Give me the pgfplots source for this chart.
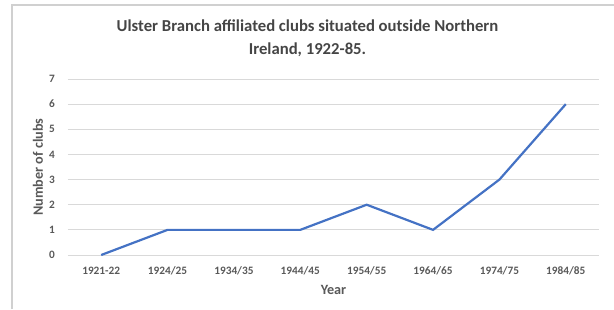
\documentclass[border=0pt]{standalone}
\usepackage{pgfplots}
\pgfplotsset{compat=1.18}
\usepackage{fontspec}
\setmainfont{Carlito}
\definecolor{xlblue}{HTML}{4472C4}
\definecolor{txtgray}{HTML}{595959}
\definecolor{titlegray}{HTML}{454545}
\definecolor{gridgray}{HTML}{D9D9D9}
\definecolor{framegray}{HTML}{D0D0D0}
\begin{document}
\begin{tikzpicture}[x=1pt,y=1pt]
\useasboundingbox (0,0) rectangle (614,309);
\draw[framegray, line width=1.2pt] (12,0) -- (12,304) -- (614,304);
\node[font=\fontsize{16.7}{23}\selectfont\bfseries, text=titlegray, align=center] at (307.5,270.5) {Ulster Branch affiliated clubs situated outside Northern\\Ireland, 1922-85.};
\begin{axis}[
  at={(68pt,54pt)}, anchor=south west,
  scale only axis, width=531pt, height=176pt,
  xmin=-0.5, xmax=7.5, ymin=0, ymax=7,
  xtick={0,...,7},
  xticklabels={1921-22,1924/25,1934/35,1944/45,1954/55,1964/65,1974/75,1984/85},
  ytick={0,...,7},
  axis line style={draw=none},
  axis x line*=bottom,
  x axis line style={draw=gridgray, line width=0.8pt},
  tick style={draw=none},
  ymajorgrids, grid style={gridgray, line width=0.8pt},
  ticklabel style={font=\fontsize{11.3}{13}\selectfont\bfseries, text=txtgray},
  /pgf/number format/assume math mode=true,
  yticklabel style={anchor=center, xshift=-16pt},
  xticklabel style={anchor=center, yshift=-16pt},
  xlabel={Year}, ylabel={Number of clubs},
  label style={font=\fontsize{14.2}{16}\selectfont\bfseries, text=txtgray},
  xlabel style={at={(axis description cs:0.5,-0.199)}, anchor=center},
  ylabel style={at={(axis description cs:-0.0565,0.5)}, anchor=center},
  clip=false,
]
\addplot[xlblue, line width=2.2pt] coordinates {(0,0) (1,1) (2,1) (3,1) (4,2) (5,1) (6,3) (7,6)};
\end{axis}
\end{tikzpicture}
\end{document}
